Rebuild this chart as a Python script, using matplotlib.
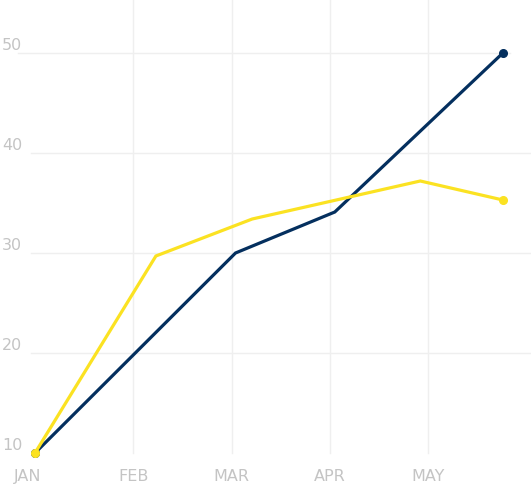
import matplotlib
matplotlib.use("Agg")
import matplotlib.pyplot as plt

months = ["JAN", "FEB", "MAR", "APR", "MAY"]
y_ticks = [10, 20, 30, 40, 50]

# x in months from JAN (fractional = mid-month samples)
navy_x = [0.0, 2.04, 3.05, 4.76]
navy_y = [10.0, 30.0, 34.1, 50.0]
yellow_x = [0.0, 1.23, 2.21, 3.92, 4.76]
yellow_y = [10.0, 29.7, 33.4, 37.2, 35.3]

NAVY = "#042f5e"
YELLOW = "#fbe222"
GRID = "#efefef"
LABEL = "#c4c4c4"

fig = plt.figure(figsize=(5.31, 4.84), dpi=100)
ax = fig.add_axes([0, 0, 1, 1])
ax.set_xlim(-0.356, 5.046)
ax.set_ylim(6.9, 55.3)
ax.axis("off")

# grid
for i in range(1, len(months)):
    ax.axvline(i, ymin=0.064, ymax=1, color=GRID, lw=1, zorder=0)
for v in y_ticks[1:]:
    if v == 50:
        ax.axhline(v, xmin=0.034, xmax=0.96, color=GRID, lw=1, zorder=0)
    else:
        ax.axhline(v, xmin=0.058, xmax=1, color=GRID, lw=1, zorder=0)

# labels
for v in y_ticks:
    ax.text(-0.336, v + 0.8, str(v), color=LABEL, fontsize=11.5,
            ha="left", va="center")
for i, m in enumerate(months):
    xx = i if i > 0 else -0.08
    ax.text(xx, 7.65, m, color=LABEL, fontsize=11.5,
            ha="center", va="center")

ax.plot(yellow_x, yellow_y, color=YELLOW, lw=2.3, marker="o", ms=5.5,
        markevery=[0, len(yellow_x) - 1], zorder=3, solid_joinstyle="miter")
ax.plot(navy_x, navy_y, color=NAVY, lw=2.3, marker="o", ms=5.5,
        markevery=[0, len(navy_x) - 1], zorder=2, solid_joinstyle="miter")

fig.savefig("out.png", dpi=100)
